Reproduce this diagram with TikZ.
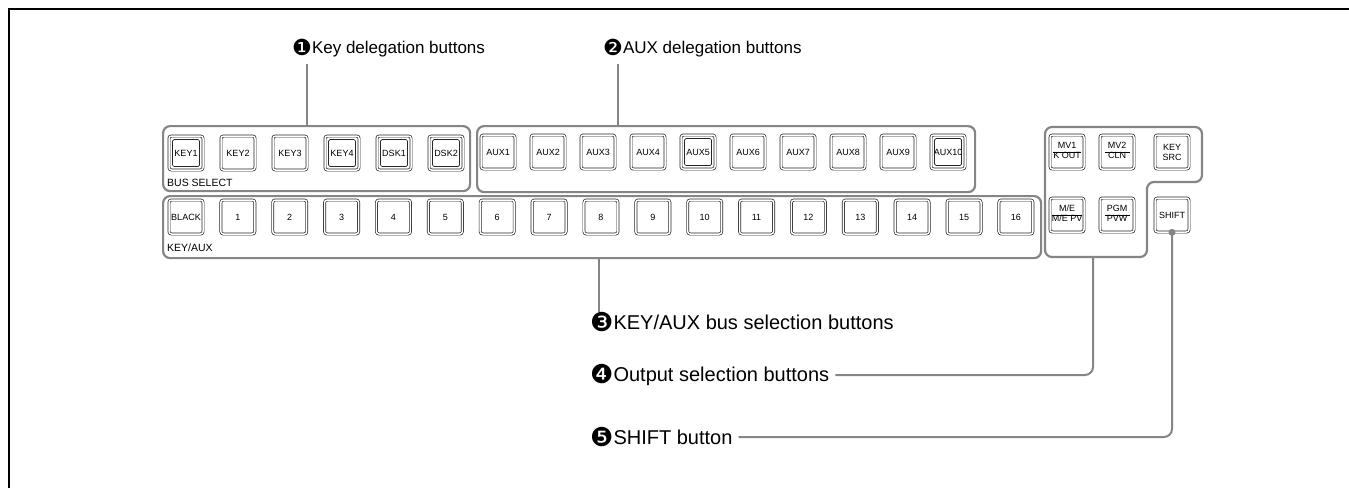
\documentclass[tikz,border=0pt]{standalone}
\usepackage{fontspec}
\setmainfont{Liberation Sans}
\newfontfamily\dingfont{DejaVu Sans}
\usetikzlibrary{positioning}
\tikzset{
    frame line/.style={line width=2.5pt},
    group box/.style={draw=black!48, line width=2.2pt, rounded corners=7pt, inner sep=0pt},
    group caption/.style={inner sep=0pt, anchor=west, font=\fontsize{10.5}{12}\selectfont},
    panel button/.style={draw=black!85, line width=0.7pt, double=white, double distance=1.5pt,
        rounded corners=2.5pt, minimum size=34pt, inner sep=0pt, font=\fontsize{9}{10}\selectfont},
    lit/.style={label={[draw=black!85, line width=0.7pt, rounded corners=1.5pt, minimum size=27pt, inner sep=0pt]center:{}}},
    callout/.style={inner sep=0pt, anchor=west, font=\fontsize{17}{20}\selectfont},
    big callout/.style={callout, font=\fontsize{20}{24}\selectfont},
    leader/.style={draw=black!48, line width=2pt, rounded corners=8pt},
}
\newcommand{\overunder}[2]{{\renewcommand{\arraystretch}{0.95}\begin{tabular}{@{}c@{}}\makebox[25pt]{#1}\\\hline #2\end{tabular}}}
\newcommand{\bignum}[1]{{\dingfont\fontsize{1.3em}{1em}\selectfont\raisebox{-0.06em}{#1}}}

\begin{document}
\begin{tikzpicture}[x=1pt,y=-1pt]
    \useasboundingbox (0,0) rectangle (1349,488);
    \draw[frame line] (9,488) -- (9,9) -- (1349,9);
    % button groups
    \node[group box, minimum width=307pt, minimum height=65pt, anchor=north west] (keygrp) at (162,125) {};
    \node[group box, minimum width=498pt, minimum height=66pt, anchor=north west] (auxgrp) at (476,125) {};
    \node[group box, minimum width=878pt, minimum height=62pt, anchor=north west] (busgrp) at (162,195) {};
    \draw[group box] (1045,190) -- (1045,127) -- (1202,127) -- (1202,182) -- (1147,182)
        -- (1147,257) -- (1045,257) -- cycle;
    \node[group caption] (bussel) at (167,183) {BUS SELECT};
    \node[group caption] (keyaux) at (167,248) {KEY/AUX};
    % key delegation
    \foreach \name/\i/\opt in {KEY1/1/lit, KEY2/2/, KEY3/3/, KEY4/4/lit, DSK1/5/lit, DSK2/6/lit}
        \node[panel button, \opt] (k\i) at ({186+52*(\i-1)},153) {\name};
    % aux delegation
    \foreach \i in {1,...,10}
        \node[panel button] (a\i) at ({498+50*(\i-1)},152) {AUX\i};
    \node[lit] at (a5) {};
    \node[lit] at (a10) {};
    % key/aux bus
    \node[panel button] (b0) at (186,217) {BLACK};
    \foreach \i in {1,...,16}
        \node[panel button] (b\i) at ({186+51.87*\i},217) {\i};
    % output selection
    \node[panel button] (mv1) at (1067,152) {\overunder{MV1}{K OUT}};
    \node[panel button] (mv2) at (1117,152) {\overunder{MV2}{CLN}};
    \node[panel button, align=center] (keysrc) at (1172,152) {KEY\\SRC};
    \node[panel button] (me) at (1067,215) {\overunder{M/E}{M/E PV}};
    \node[panel button] (pgm) at (1117,215) {\overunder{PGM}{PVW}};
    \node[panel button] (shift) at (1172,215) {SHIFT};
    % callouts
    \coordinate (keytop) at (307,125);
    \coordinate (auxtop) at (618,125);
    \coordinate (busbot) at (599,257);
    \coordinate (outbot) at (1093,257);
    \node[callout] (lkey) at (292,48) {\bignum{❶}Key delegation buttons};
    \node[callout] (laux) at (603,48) {\bignum{❷}AUX delegation buttons};
    \node[big callout] (lbus) at (590,322) {\bignum{❸}KEY/AUX bus selection buttons};
    \node[big callout] (lout) at (590,375) {\bignum{❹}Output selection buttons};
    \node[big callout] (lshift) at (590,437) {\bignum{❺}SHIFT button};
    \draw[leader, shorten <=7pt] (keytop |- lkey.south) -- (keytop);
    \draw[leader, shorten <=7pt] (auxtop |- laux.south) -- (auxtop);
    \draw[leader] (busbot) -- (busbot |- lbus.north);
    \draw[leader] ([xshift=6pt]lout.east) -| (outbot);
    \draw[leader] ([xshift=6pt]lshift.east) -| (shift.south);
    \fill[black!48] (shift.south) circle (3.5pt);
\end{tikzpicture}
\end{document}
